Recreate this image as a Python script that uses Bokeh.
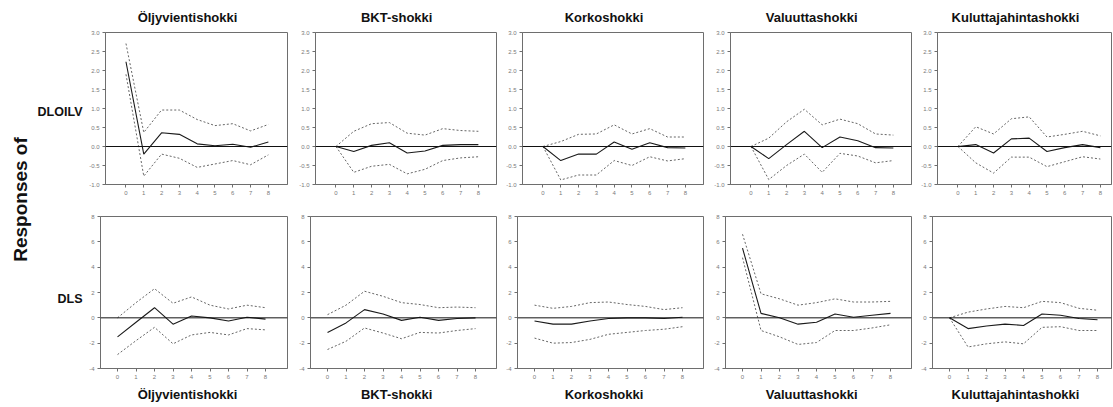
import math
from bokeh.plotting import figure
from bokeh.layouts import row, column
from bokeh.models import Span, Label, Range1d, FixedTicker, NumeralTickFormatter
from bokeh.embed import file_html
from bokeh.resources import INLINE

horizons = [0, 1, 2, 3, 4, 5, 6, 7, 8]
shocks = ["Öljyvientishokki", "BKT-shokki", "Korkoshokki", "Valuuttashokki", "Kuluttajahintashokki"]
responses = ["DLOILV", "DLS"]
y_label = "Responses of"

# DLOILV responses (row 1)
dloilv_oil = [2.23, -0.20, 0.36, 0.32, 0.07, 0.02, 0.06, -0.02, 0.12]
dloilv_oil_hi = [2.71, 0.37, 0.96, 0.96, 0.71, 0.55, 0.60, 0.41, 0.58]
dloilv_oil_lo = [1.90, -0.78, -0.20, -0.31, -0.55, -0.46, -0.37, -0.48, -0.22]

dloilv_gdp = [0.0, -0.13, 0.03, 0.10, -0.17, -0.12, 0.03, 0.05, 0.05]
dloilv_gdp_hi = [0.0, 0.40, 0.60, 0.63, 0.35, 0.30, 0.47, 0.42, 0.40]
dloilv_gdp_lo = [0.0, -0.68, -0.52, -0.47, -0.72, -0.60, -0.37, -0.30, -0.27]

dloilv_rate = [0.0, -0.37, -0.20, -0.20, 0.12, -0.07, 0.10, -0.03, -0.04]
dloilv_rate_hi = [0.0, 0.13, 0.32, 0.33, 0.57, 0.33, 0.47, 0.25, 0.25]
dloilv_rate_lo = [0.0, -0.88, -0.75, -0.75, -0.37, -0.50, -0.27, -0.38, -0.32]

dloilv_fx = [0.0, -0.32, 0.05, 0.40, -0.03, 0.25, 0.15, -0.03, -0.04]
dloilv_fx_hi = [0.0, 0.22, 0.65, 0.98, 0.57, 0.72, 0.60, 0.33, 0.30]
dloilv_fx_lo = [0.0, -0.87, -0.50, -0.20, -0.68, -0.18, -0.25, -0.43, -0.37]

dloilv_cpi = [0.0, 0.05, -0.17, 0.20, 0.22, -0.13, -0.03, 0.05, -0.03]
dloilv_cpi_hi = [0.0, 0.52, 0.33, 0.73, 0.78, 0.25, 0.32, 0.40, 0.28]
dloilv_cpi_lo = [0.0, -0.43, -0.70, -0.28, -0.28, -0.53, -0.40, -0.27, -0.33]

# DLS responses (row 2)
dls_oil = [-1.50, -0.35, 0.80, -0.50, 0.15, 0.00, -0.25, 0.05, -0.10]
dls_oil_hi = [0.00, 1.20, 2.30, 1.15, 1.65, 1.00, 0.70, 1.00, 0.80]
dls_oil_lo = [-2.90, -1.80, -0.75, -2.05, -1.35, -1.15, -1.35, -0.85, -0.95]

dls_gdp = [-1.15, -0.40, 0.65, 0.30, -0.20, 0.05, -0.20, -0.05, 0.00]
dls_gdp_hi = [0.25, 1.00, 2.10, 1.70, 1.20, 1.05, 0.80, 0.85, 0.80]
dls_gdp_lo = [-2.50, -1.85, -0.80, -1.20, -1.65, -1.15, -1.20, -1.00, -0.85]

dls_rate = [-0.25, -0.50, -0.50, -0.25, -0.05, 0.00, 0.00, -0.05, 0.05]
dls_rate_hi = [1.00, 0.75, 0.90, 1.20, 1.25, 1.05, 0.90, 0.65, 0.80]
dls_rate_lo = [-1.60, -2.00, -1.95, -1.70, -1.30, -1.15, -1.00, -0.90, -0.70]

dls_fx = [5.50, 0.35, 0.00, -0.50, -0.35, 0.30, 0.05, 0.20, 0.35]
dls_fx_hi = [6.60, 1.90, 1.50, 1.00, 1.20, 1.50, 1.25, 1.25, 1.30]
dls_fx_lo = [4.75, -1.00, -1.50, -2.10, -1.95, -1.00, -1.00, -0.80, -0.55]

dls_cpi = [0.00, -0.85, -0.65, -0.50, -0.60, 0.30, 0.20, -0.05, -0.15]
dls_cpi_hi = [0.00, 0.45, 0.70, 0.90, 0.80, 1.30, 1.20, 0.75, 0.60]
dls_cpi_lo = [0.00, -2.30, -2.05, -1.90, -2.05, -0.75, -0.70, -1.00, -1.00]

row1_ticks = [-1.0, -0.5, 0.0, 0.5, 1.0, 1.5, 2.0, 2.5, 3.0]
row2_ticks = [-4, -2, 0, 2, 4, 6, 8]

data = [
    [(dloilv_oil, dloilv_oil_hi, dloilv_oil_lo),
     (dloilv_gdp, dloilv_gdp_hi, dloilv_gdp_lo),
     (dloilv_rate, dloilv_rate_hi, dloilv_rate_lo),
     (dloilv_fx, dloilv_fx_hi, dloilv_fx_lo),
     (dloilv_cpi, dloilv_cpi_hi, dloilv_cpi_lo)],
    [(dls_oil, dls_oil_hi, dls_oil_lo),
     (dls_gdp, dls_gdp_hi, dls_gdp_lo),
     (dls_rate, dls_rate_hi, dls_rate_lo),
     (dls_fx, dls_fx_hi, dls_fx_lo),
     (dls_cpi, dls_cpi_hi, dls_cpi_lo)],
]

FONT = "Liberation Sans"
FRAME_COL = "#6e6e6e"
TITLE_PX = 13

# Arial/Liberation Sans Bold advance widths (per 1000 em) for centring titles
_W = {"Ö": 778, "l": 278, "j": 278, "y": 556, "v": 556, "i": 278, "e": 556, "n": 611,
      "t": 333, "s": 556, "h": 611, "o": 611, "k": 556, "B": 722, "K": 722, "T": 611,
      "-": 333, "r": 389, "V": 667, "a": 556, "u": 611}


def text_width(s, px):
    return sum(_W.get(c, 556) for c in s) * px / 1000.0


LEFT_W = 84
TOTAL_H = 406
col_widths = [204, 209, 207, 208, 200]
row1_borders = [21, 27, 25, 26, 25]
row_cfg = [
    dict(height=208, top=32, bottom=24, x0=-1.15, ppu=17.8, shift=0, yr=(-1, 3),
         ticks=row1_ticks, fmt="0.0", loc="above", standoff=15),
    dict(height=198, top=8, bottom=38, x0=-0.92, ppu=18.5, shift=5, yr=(-4, 8),
         ticks=row2_ticks, fmt="0", loc="below", standoff=7),
]

rows = []
for ri, cfg in enumerate(row_cfg):
    figs = []
    for ci in range(5):
        bl = row1_borders[ci] - cfg["shift"]
        fw = col_widths[ci] - bl - 1
        x1 = cfg["x0"] + fw / cfg["ppu"]
        p = figure(width=col_widths[ci], height=cfg["height"],
                   output_backend="svg", toolbar_location=None,
                   x_range=Range1d(cfg["x0"], x1), y_range=Range1d(*cfg["yr"]),
                   min_border_left=bl, min_border_right=1,
                   min_border_top=cfg["top"], min_border_bottom=cfg["bottom"],
                   title=shocks[ci], title_location=cfg["loc"])
        # title centred ~9px left of the (row-1) frame centre, as in the reference
        title_centre = (row1_borders[ci] + (col_widths[ci] - row1_borders[ci] - 1) / 2 - 9) - bl
        p.title.text_font = FONT
        p.title.text_font_size = f"{TITLE_PX}px"
        p.title.text_font_style = "bold"
        p.title.text_color = "#111111"
        p.title.align = "left"
        p.title.offset = title_centre - text_width(shocks[ci], TITLE_PX) / 2
        p.title.standoff = cfg["standoff"]
        p.xgrid.visible = False
        p.ygrid.visible = False
        p.outline_line_color = FRAME_COL
        p.outline_line_width = 1
        p.background_fill_color = "white"
        p.border_fill_color = "white"
        for ax in (p.xaxis[0], p.yaxis[0]):
            ax.axis_line_color = FRAME_COL
            ax.major_tick_line_color = FRAME_COL
            ax.major_tick_out = 3
            ax.major_tick_in = 0
            ax.minor_tick_line_color = None
            ax.major_label_text_font = FONT
            ax.major_label_text_font_size = "6px"
            ax.major_label_text_color = "#7a7a7a"
            ax.major_label_standoff = 3
        p.xaxis[0].ticker = FixedTicker(ticks=horizons)
        p.yaxis[0].ticker = FixedTicker(ticks=cfg["ticks"])
        p.yaxis[0].formatter = NumeralTickFormatter(format=cfg["fmt"])
        p.add_layout(Span(location=0, dimension="width", line_color="#111111", line_width=1))
        resp, hi, lo = data[ri][ci]
        p.line(horizons, hi, line_color="#666666", line_width=1, line_dash="2 2")
        p.line(horizons, lo, line_color="#666666", line_width=1, line_dash="2 2")
        p.line(horizons, resp, line_color="#1a1a1a", line_width=1.1)
        figs.append(p)
    rows.append(row(*figs))

left = figure(width=LEFT_W, height=TOTAL_H, output_backend="svg", toolbar_location=None,
              x_range=Range1d(0, LEFT_W), y_range=Range1d(0, TOTAL_H),
              min_border_left=0, min_border_right=0, min_border_top=0, min_border_bottom=0,
              title=None)
left.axis.visible = False
left.xgrid.visible = False
left.ygrid.visible = False
left.outline_line_color = None
left.add_layout(Label(x=20, y=TOTAL_H - 199, text=y_label, angle=math.pi / 2,
                      text_align="center", text_baseline="middle",
                      text_font=FONT, text_font_size="19px", text_font_style="bold",
                      text_color="#111111"))
left.add_layout(Label(x=82, y=TOTAL_H - 111, text=responses[0],
                      text_align="right", text_baseline="middle",
                      text_font=FONT, text_font_size="12.5px", text_font_style="bold",
                      text_color="#111111"))
left.add_layout(Label(x=82, y=TOTAL_H - 298, text=responses[1],
                      text_align="right", text_baseline="middle",
                      text_font=FONT, text_font_size="12.5px", text_font_style="bold",
                      text_color="#111111"))

layout = row(left, column(*rows))
open("out.html", "w").write(file_html(layout, INLINE))
